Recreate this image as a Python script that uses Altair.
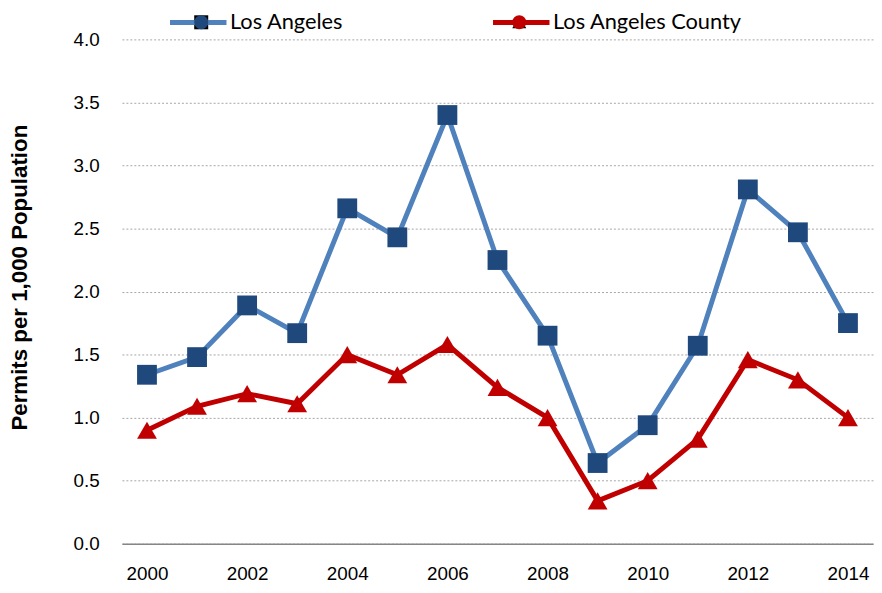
import altair as alt
import pandas as pd

years = list(range(2000, 2015))
la_city = [1.34, 1.48, 1.89, 1.67, 2.66, 2.43, 3.40, 2.25, 1.65, 0.64, 0.94, 1.57, 2.81, 2.47, 1.75]
la_county = [0.90, 1.09, 1.19, 1.11, 1.50, 1.34, 1.58, 1.24, 1.00, 0.34, 0.50, 0.83, 1.46, 1.30, 1.00]
series_names = ["Los Angeles", "Los Angeles County"]
line_colors = ["#4F81BD", "#C00000"]
marker_colors = ["#1F497D", "#C00000"]
marker_shapes = ["square", "triangle-up"]
x_ticks = [2000, 2002, 2004, 2006, 2008, 2010, 2012, 2014]
y_ticks = [0, 0.5, 1.0, 1.5, 2.0, 2.5, 3.0, 3.5, 4.0]

rows = []
for name, vals in zip(series_names, [la_city, la_county]):
    for yr, v in zip(years, vals):
        rows.append({"Year": yr, "Value": v, "Series": name, "Marker": name})
df = pd.DataFrame(rows)

LABEL_FONT = "Liberation Sans Narrow, Liberation Sans, Arial"
LEG_FONT = "Lato"

x_enc = alt.X("Year:Q",
              scale=alt.Scale(domain=[1999.5, 2014.5], nice=False, zero=False),
              axis=alt.Axis(values=x_ticks, format="d", title=None, grid=False,
                            ticks=False, domain=True, domainColor="#868686",
                            domainWidth=1.5, labelPadding=21, labelFontSize=19,
                            labelFont=LABEL_FONT, labelColor="#000000"))
y_enc = alt.Y("Value:Q",
              scale=alt.Scale(domain=[0, 4], nice=False),
              axis=alt.Axis(values=y_ticks, format=".1f",
                            title="Permits per 1,000 Population",
                            titleFont="Liberation Sans", titleFontSize=22.5,
                            titleFontWeight="bold", titleColor="#000000",
                            titleX=-103, titleY=240, titleAlign="center",
                            titleBaseline="middle", titleAngle=-90,
                            grid=True, gridDash=[2, 2], gridColor="#A6A6A6",
                            gridWidth=1, ticks=False, domain=False,
                            labelPadding=23, labelFontSize=19,
                            labelFont=LABEL_FONT, labelColor="#000000"))

LEG_X = 46
LEG_Y = -48
COLPAD = 140

lines = alt.Chart(df).mark_line(strokeWidth=5).encode(
    x=x_enc, y=y_enc,
    color=alt.Color("Series:N",
                    scale=alt.Scale(domain=series_names, range=line_colors),
                    legend=alt.Legend(orient="none", legendX=LEG_X, legendY=LEG_Y,
                                      direction="horizontal", title=None,
                                      symbolType="stroke", symbolStrokeWidth=5,
                                      symbolSize=3249, labelFont=LEG_FONT,
                                      labelFontSize=22, labelColor="#000000",
                                      labelLimit=400,
                                      labelOffset=1, columnPadding=COLPAD)),
)

marker_legend = alt.Legend(orient="none", legendX=LEG_X + 23.5, legendY=-28,
                           direction="horizontal", title=None,
                           symbolSize=200, symbolStrokeWidth=0,
                           symbolOpacity=1, labelExpr="''",
                           labelFontSize=21, labelOffset=0,
                           columnPadding=COLPAD + 160)

points = alt.Chart(df).mark_point(filled=True, size=400, opacity=1).encode(
    x=x_enc, y=y_enc,
    color=alt.Color("Marker:N",
                    scale=alt.Scale(domain=series_names, range=marker_colors),
                    legend=marker_legend),
    shape=alt.Shape("Marker:N",
                    scale=alt.Scale(domain=series_names, range=marker_shapes),
                    legend=marker_legend),
)

chart = alt.layer(lines, points).resolve_scale(color="independent").properties(
    width=758, height=509,
    autosize=alt.AutoSizeParams(type="none"),
    padding={"left": 115, "top": 29, "right": 1, "bottom": 40},
).configure_view(stroke=None)

chart.save("out.html", embed_options={"renderer": "svg", "actions": False})
